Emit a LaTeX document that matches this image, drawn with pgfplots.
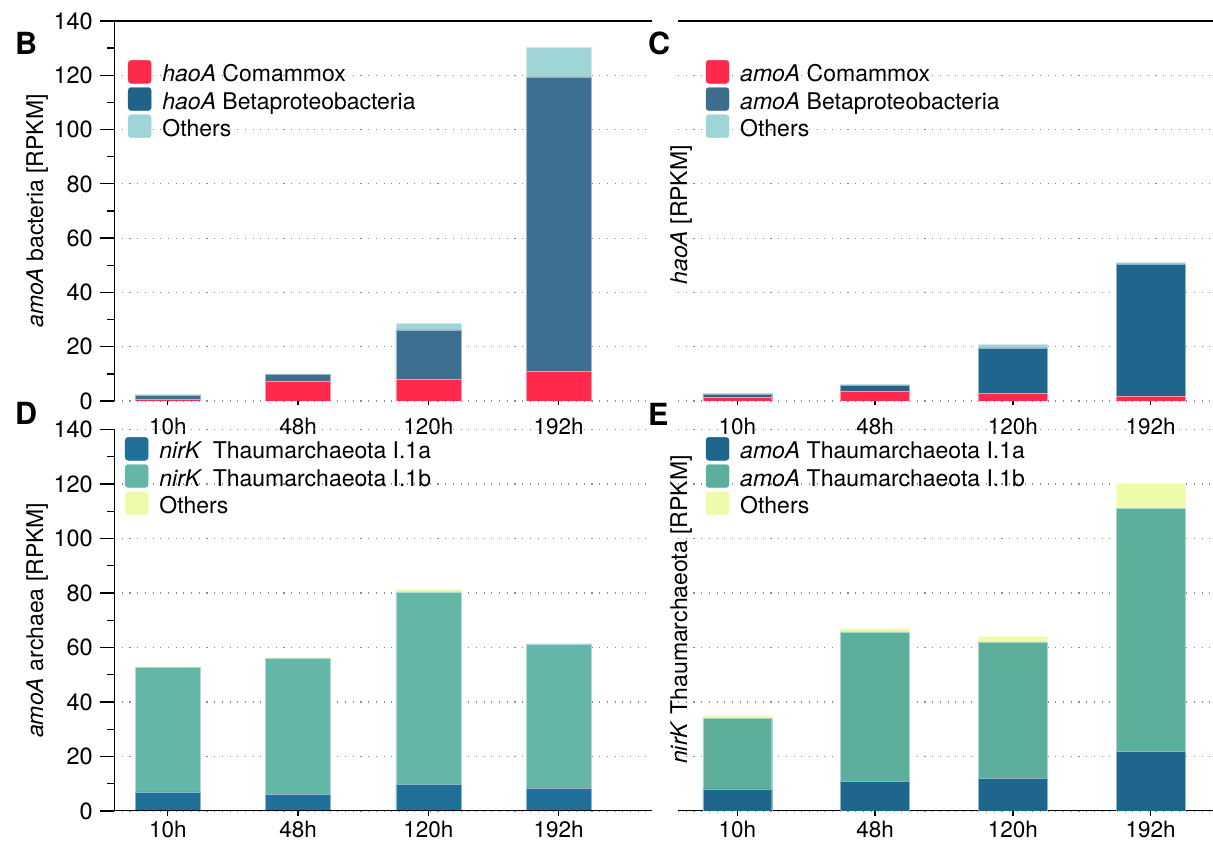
\documentclass[border=0pt]{standalone}
\usepackage{fontspec}
\setmainfont{TeX Gyre Heros}
\usepackage{pgfplots}
\pgfplotsset{compat=1.18}

\definecolor{cred}{HTML}{FF2A4B}
\definecolor{cbarB}{HTML}{3D7090}
\definecolor{clegB}{HTML}{1F6389}
\definecolor{cbarC}{HTML}{20668C}
\definecolor{clegC}{HTML}{3D6E8F}
\definecolor{coth}{HTML}{9FD5D6}
\definecolor{cdarkD}{HTML}{20709A}
\definecolor{cdarkE}{HTML}{1F668C}
\definecolor{cgreenD}{HTML}{64B6A7}
\definecolor{cgreenE}{HTML}{5CAE9D}
\definecolor{cyel}{HTML}{EEFBAA}
\definecolor{cgrid}{HTML}{8C8C8C}

\pgfplotsset{
  sq/.style={legend image code/.code={\fill[#1,rounded corners=3bp] (0bp,-7.5bp) rectangle (23bp,15.5bp);}},
  base/.style={
    scale only axis, ymin=0, ymax=140,
    font=\fontsize{22.5bp}{26bp}\selectfont,
    tick label style={font=\fontsize{22.5bp}{26bp}\selectfont},
    /pgf/number format/assume math mode=true,
    axis line style={draw=none},
  },
  mainax/.style={
    base,
    ybar stacked, bar shift=0pt, bar width=0.5,
    xtick={0,1,2,3}, xticklabels={10h,48h,120h,192h},
    xtick pos=bottom,
    tick align=center, major tick length=9bp,
    x tick style={black, line width=1.3bp},
    ytick={0,20,...,140}, y tick style={draw=none}, yticklabels={},
    ymajorgrids, grid style={cgrid, line width=1.1bp, dash pattern=on 1.1bp off 6.6bp},
    xticklabel style={anchor=north, inner sep=0pt, yshift=-12bp},
    legend cell align=left,
    legend style={draw=none, fill=none, anchor=north west, inner sep=0pt, outer sep=0pt, row sep=1bp,
      font=\fontsize{23bp}{26bp}\selectfont,
      nodes={inner sep=0pt, text height=16.5bp, text depth=4.5bp},
      /tikz/every odd column/.append style={column sep=11bp}},
    ylabel style={anchor=center, font=\fontsize{23bp}{26bp}\selectfont},
  },
  yax/.style={
    base,
    xtick=\empty, ytick={0,20,...,140}, minor y tick num=1,
    ytick pos=left, tick align=outside, major tick length=14bp, minor tick length=7bp,
    y tick style={black, line width=1.3bp},
    yticklabel style={inner sep=0pt, xshift=-7bp, font=\fontsize{23.5bp}{26bp}\selectfont},
  },
}

\begin{document}
\begin{tikzpicture}
\useasboundingbox (0,0) rectangle (1213bp,841bp);

% ---------------- Panel B ----------------
\begin{axis}[mainax, at={(114bp,440bp)}, anchor=south west, width=538bp, height=380bp,
  xmin=-0.413, xmax=3.717,
  ylabel={\textit{amoA} bacteria [RPKM]},
  ylabel style={at={(axis description cs:-0.143,0.5)}},
  legend style={at={(0.026,0.897)}}]
\addlegendimage{sq=cred}\addlegendentry{\textit{haoA} Comammox}
\addlegendimage{sq=clegB}\addlegendentry{\textit{haoA} Betaproteobacteria}
\addlegendimage{sq=coth}\addlegendentry{Others}
\addplot[fill=cred, draw=cred!50!white] coordinates {(0,0.6) (1,7.4) (2,8.0) (3,11.0)};
\addplot[fill=cbarB, draw=cbarB!50!white] coordinates {(0,1.6) (1,2.3) (2,18.2) (3,108.4)};
\addplot[fill=coth, draw=coth!50!white] coordinates {(0,0.2) (1,0.2) (2,2.5) (3,11.0)};
\end{axis}
\begin{axis}[yax, at={(114bp,440bp)}, anchor=south west, width=538bp, height=380bp,
  xmin=-0.413, xmax=3.717]
\draw[line width=1.3bp] (rel axis cs:0,0) -- (rel axis cs:0,1) -- ([xshift=26bp]rel axis cs:1,1);
\end{axis}

% ---------------- Panel C ----------------
\begin{axis}[mainax, at={(678bp,440bp)}, anchor=south west, width=535bp, height=380bp,
  xmin=-0.43, xmax=3.452,
  ylabel={\textit{haoA} [RPKM]},
  ylabel style={at={(axis description cs:0.006,0.49)}},
  legend style={at={(0.052,0.897)}}]
\addlegendimage{sq=cred}\addlegendentry{\textit{amoA} Comammox}
\addlegendimage{sq=clegC}\addlegendentry{\textit{amoA} Betaproteobacteria}
\addlegendimage{sq=coth}\addlegendentry{Others}
\addplot[fill=cred, draw=cred!50!white] coordinates {(0,1.4) (1,3.7) (2,2.9) (3,1.8)};
\addplot[fill=cbarC, draw=cbarC!50!white] coordinates {(0,1.2) (1,2.2) (2,16.7) (3,48.7)};
\addplot[fill=coth, draw=coth!50!white] coordinates {(0,0.1) (1,0.1) (2,1.3) (3,0.7)};
\draw[line width=1.3bp] (rel axis cs:0,1) -- (rel axis cs:1,1);
\end{axis}

% ---------------- Panel D ----------------
\begin{axis}[mainax, at={(114bp,30bp)}, anchor=south west, width=538bp, height=381.5bp,
  xmin=-0.413, xmax=3.717,
  xticklabel style={yshift=7bp},
  ylabel={\textit{amoA} archaea [RPKM]},
  ylabel style={at={(axis description cs:-0.143,0.5)}},
  legend style={at={(0.0204,0.980)}}]
\addlegendimage{sq=cdarkD}\addlegendentry{\textit{nirK}\hspace{0.45em}Thaumarchaeota I.1a}
\addlegendimage{sq=cgreenD}\addlegendentry{\textit{nirK}\hspace{0.45em}Thaumarchaeota I.1b}
\addlegendimage{sq=cyel}\addlegendentry{Others}
\addplot[fill=cdarkD, draw=cdarkD!50!white] coordinates {(0,7.0) (1,6.2) (2,9.9) (3,8.4)};
\addplot[fill=cgreenD, draw=cgreenD!50!white] coordinates {(0,45.8) (1,49.9) (2,70.5) (3,52.9)};
\addplot[fill=cyel, draw=cyel!50!white] coordinates {(0,0.15) (1,0.15) (2,1.0) (3,0.15)};
\draw[line width=1.3bp] (rel axis cs:0,0) -- (rel axis cs:1,0);
\end{axis}
\begin{axis}[yax, at={(114bp,30bp)}, anchor=south west, width=538bp, height=381.5bp,
  xmin=-0.413, xmax=3.717]
\draw[line width=1.3bp] (rel axis cs:0,1) -- (rel axis cs:0,0) -- (rel axis cs:1,0);
\end{axis}

% ---------------- Panel E ----------------
\begin{axis}[mainax, at={(678bp,30bp)}, anchor=south west, width=535bp, height=381.5bp,
  xmin=-0.43, xmax=3.452,
  xticklabel style={yshift=7bp},
  ylabel={\textit{nirK} Thaumarchaeota [RPKM]},
  ylabel style={at={(axis description cs:0.006,0.528)}},
  legend style={at={(0.052,0.980)}}]
\addlegendimage{sq=cdarkE}\addlegendentry{\textit{amoA} Thaumarchaeota I.1a}
\addlegendimage{sq=cgreenE}\addlegendentry{\textit{amoA} Thaumarchaeota I.1b}
\addlegendimage{sq=cyel}\addlegendentry{Others}
\addplot[fill=cdarkE, draw=cdarkE!50!white] coordinates {(0,8.1) (1,10.8) (2,12.0) (3,21.8)};
\addplot[fill=cgreenE, draw=cgreenE!50!white] coordinates {(0,26.0) (1,54.9) (2,50.1) (3,89.3)};
\addplot[fill=cyel, draw=cyel!50!white] coordinates {(0,1.0) (1,1.4) (2,2.1) (3,9.3)};
\draw[line width=1.3bp] (rel axis cs:0,0) -- (rel axis cs:1,0);
\end{axis}

% panel letters
\begin{scope}[every node/.style={anchor=base west, inner sep=0pt, font=\fontsize{30.5bp}{30bp}\selectfont\bfseries}]
\node at (15bp,786bp) {B};
\node at (648bp,786bp) {C};
\node at (15bp,416bp) {D};
\node at (648bp,415bp) {E};
\end{scope}
\end{tikzpicture}
\end{document}
